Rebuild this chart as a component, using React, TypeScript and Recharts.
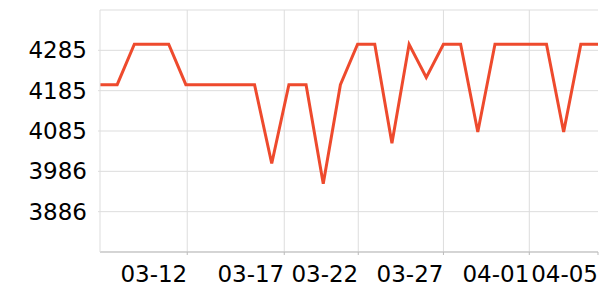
import React from 'react';
import { LineChart, Line, XAxis, YAxis, CartesianGrid, ReferenceLine } from 'recharts';

const dates = [
  '03-07', '03-08', '03-09', '03-10', '03-11', '03-12', '03-13', '03-14', '03-15', '03-16',
  '03-17', '03-18', '03-19', '03-20', '03-21', '03-22', '03-23', '03-24', '03-25', '03-26',
  '03-27', '03-28', '03-29', '03-30', '03-31', '04-01', '04-02', '04-03', '04-04', '04-05',
];
const values = [
  4200, 4200, 4300, 4300, 4300, 4200, 4200, 4200, 4200, 4200,
  4005, 4200, 4200, 3955, 4200, 4300, 4300, 4055, 4300, 4218,
  4300, 4300, 4083, 4300, 4300, 4300, 4300, 4083, 4300, 4300,
];
const xTickPositions = [5.08, 10.73, 15.04, 20, 25, 29];
const xTickLabels = ['03-12', '03-17', '03-22', '03-27', '04-01', '04-05'];
const yDomain = [3786, 4384.8];
const yTicks = [3885.8, 3985.6, 4085.4, 4185.2, 4285];

const data = values.map((v, i) => ({ idx: i, date: dates[i], value: v }));

const FONT = 'DejaVu Sans';

const XTick = (props: any) => {
  const { x, y, payload } = props;
  const k = xTickPositions.indexOf(payload.value);
  return (
    <text x={x} y={y} dy="0.71em" textAnchor="end" fontSize={23} fontFamily={FONT} fill="#000">
      {k >= 0 ? xTickLabels[k] : ''}
    </text>
  );
};

export default function App() {
  return (
    <div style={{ position: 'absolute', left: 0, top: 0 }}>
      <LineChart width={600} height={300} data={data} margin={{ top: 10, right: 2, bottom: 0, left: 0 }}>
        <CartesianGrid stroke="#ddd" vertical={false} />
        {xTickPositions.slice(0, xTickPositions.length - 1).map((t) => (
          <ReferenceLine key={t} x={t} stroke="#ddd" strokeWidth={1} ifOverflow="extendDomain" />
        ))}
        <XAxis
          dataKey="idx"
          type="number"
          domain={[0, 29]}
          ticks={xTickPositions}
          interval={0}
          height={48}
          axisLine={{ stroke: '#bbb' }}
          tickLine={{ stroke: '#bbb' }}
          tickSize={3}
          tickMargin={11}
          tick={<XTick />}
        />
        <YAxis
          type="number"
          domain={yDomain}
          ticks={yTicks}
          interval={0}
          width={100}
          axisLine={{ stroke: '#ddd' }}
          tickLine={{ stroke: '#ddd' }}
          tickSize={2}
          tickMargin={11}
          tickFormatter={(v: number) => String(Math.round(v))}
          tick={{ fontSize: 23, fontFamily: FONT, fill: '#000' }}
        />
        <Line
          type="linear"
          dataKey="value"
          stroke="#ee4a2d"
          strokeWidth={3}
          dot={false}
          isAnimationActive={false}
        />
      </LineChart>
    </div>
  );
}
